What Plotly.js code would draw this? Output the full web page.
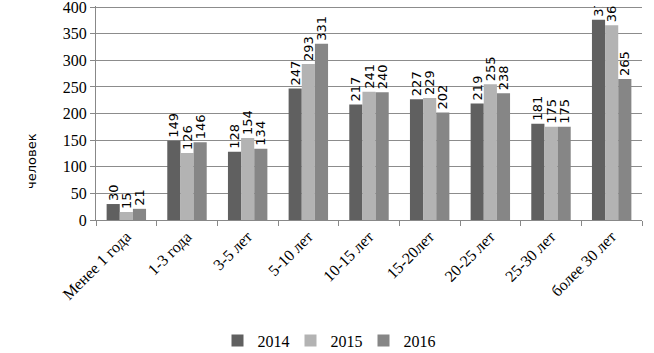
<!DOCTYPE html>
<html><head><meta charset="utf-8">
<script src="https://cdn.plot.ly/plotly-3.0.1.min.js"></script>
<style>body{margin:0;background:#fff}#chart{width:654px;height:353px}</style>
</head><body><div id="chart"></div>
<script>
const categories = ["Менее 1 года","1-3 года","3-5 лет","5-10 лет","10-15 лет","15-20лет","20-25 лет","25-30 лет","более 30 лет"];
const years = ["2014","2015","2016"];
const v2014 = [30,149,128,247,217,227,219,181,376];
const v2015 = [15,126,154,293,241,229,255,175,366];
const v2016 = [21,146,134,331,240,202,238,175,265];
const yTicks = [0,50,100,150,200,250,300,350,400];
const yTitle = "человек";
const colors = ["#606060","#b3b3b3","#868686"];
const series = [v2014, v2015, v2016];

const traces = series.map((vals, i) => ({
  type: "bar", name: years[i], x: categories, y: vals,
  marker: {color: colors[i]},
  text: vals.map(String), textposition: "outside", textangle: -90,
  constraintext: "none", cliponaxis: true,
  textfont: {family: "DejaVu Sans", size: 13, color: "#000"}
}));

const layout = {
  width: 654, height: 353,
  margin: {l: 96, r: 12, t: 6, b: 133},
  paper_bgcolor: "#fff", plot_bgcolor: "#fff",
  barmode: "group", bargap: 0.35, bargroupgap: 0,
  showlegend: true,
  legend: {orientation: "h", xref: "container", x: 0.5, xanchor: "center", yref: "container", y: 0.035, yanchor: "middle",
           font: {family: "Liberation Serif", size: 16, color: "#000"}, entrywidth: 28, entrywidthmode: "pixels", itemwidth: 30, tracegroupgap: 0},
  xaxis: {type: "category", tickangle: -45, tickson: "boundaries", ticks: "outside", ticklen: 5, tickcolor: "#888",
          showline: true, linecolor: "#888", showgrid: false,
          tickfont: {family: "Liberation Serif", size: 16, color: "#000"}},
  yaxis: {range: [0, 402], tickmode: "array", tickvals: yTicks, ticktext: yTicks.map(String), ticks: "outside", ticklen: 5, tickcolor: "#888",
          ticklabeloverflow: "allow",
          showline: true, linecolor: "#888", showgrid: true, gridcolor: "#8c8c8c", zeroline: false,
          tickfont: {family: "Liberation Serif", size: 16, color: "#000"}},
  annotations: [{text: yTitle, textangle: -90, showarrow: false, xref: "paper", yref: "paper",
                 x: 0, xshift: -64, xanchor: "center", y: 0.276, yanchor: "middle",
                 font: {family: "DejaVu Sans", size: 13, color: "#000"}}]
};
Plotly.newPlot("chart", traces, layout, {displayModeBar: false, staticPlot: true});
</script></body></html>
